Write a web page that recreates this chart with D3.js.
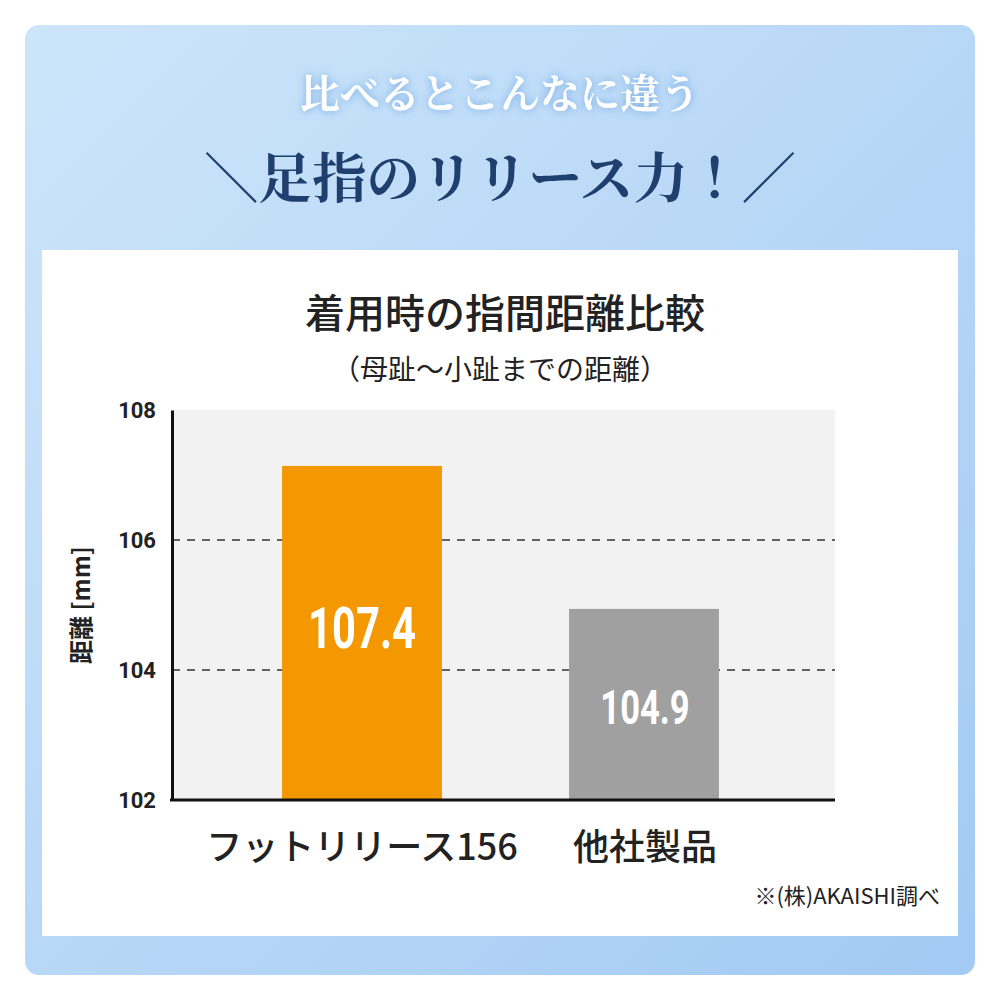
<!DOCTYPE html><html><head><meta charset="utf-8">
<script src="https://cdn.jsdelivr.net/npm/d3@7/dist/d3.min.js"></script>
<style>body{margin:0}</style></head><body><svg id="c" width="1000" height="1000"></svg>
<script>
const categories=["フットリリース156","他社製品"];
const values=[107.14,104.94];
const valueLabels=["107.4","104.9"];
const colors=["#f39800","#a0a0a0"];
const yTicks=[102,104,106,108];
const svg=d3.select("#c");
const F="'Noto Sans CJK JP','Noto Sans',sans-serif";
const defs=svg.append("defs");
const g=defs.append("linearGradient").attr("id","bg").attr("x1","0").attr("y1","0").attr("x2","1").attr("y2","1");
g.append("stop").attr("offset","0").attr("stop-color","#cde5fa");
g.append("stop").attr("offset","1").attr("stop-color","#a3caf3");
const fl=defs.append("filter").attr("id","glow").attr("x","-20%").attr("y","-50%").attr("width","140%").attr("height","200%");
fl.append("feGaussianBlur").attr("stdDeviation","4").attr("in","SourceAlpha").attr("result","b");
fl.append("feFlood").attr("flood-color","#5a9be0").attr("flood-opacity","0.8");
fl.append("feComposite").attr("in2","b").attr("operator","in").attr("result","s");
const m=fl.append("feMerge");m.append("feMergeNode").attr("in","s");m.append("feMergeNode").attr("in","SourceGraphic");
svg.append("rect").attr("width",1000).attr("height",1000).attr("fill","#fff");
svg.append("rect").attr("x",25).attr("y",25).attr("width",950).attr("height",950).attr("rx",14).attr("fill","url(#bg)");
svg.append("rect").attr("x",42).attr("y",250).attr("width",916).attr("height",686).attr("fill","#fff");
svg.append("text").attr("x",500).attr("y",108).attr("text-anchor","middle").attr("fill","#fff").attr("font-family","'Noto Serif CJK JP','Noto Sans CJK JP',serif").attr("font-weight","bold").attr("font-size",40).attr("filter","url(#glow)").text("比べるとこんなに違う");
svg.append("text").attr("x",500).attr("y",198).attr("text-anchor","middle").attr("fill","#1f3f6e").attr("font-family","'Noto Serif CJK JP','Noto Sans CJK JP',serif").attr("font-weight","bold").attr("font-size",54).text("＼足指のリリース力！／");
svg.append("text").attr("x",505).attr("y",328).attr("text-anchor","middle").attr("font-family",F).attr("font-weight",500).attr("font-size",40).attr("fill","#222").text("着用時の指間距離比較");
svg.append("text").attr("x",500).attr("y",380).attr("text-anchor","middle").attr("font-family",F).attr("font-size",28).attr("fill","#222").text("（母趾～小趾までの距離）");
const x0=172,x1=835,yT=410,yB=800;
const xb=d3.scaleBand().domain(categories).range([x0,x1]).paddingInner(0.435).paddingOuter(0.389);
const y=d3.scaleLinear().domain([102,108]).range([yB,yT]);
svg.append("rect").attr("x",x0).attr("y",yT).attr("width",x1-x0).attr("height",yB-yT).attr("fill","#f2f2f2");
svg.selectAll(".gl").data([104,106]).join("line").attr("x1",x0).attr("x2",x1).attr("y1",d=>y(d)).attr("y2",d=>y(d)).attr("stroke","#333").attr("stroke-width",1.5).attr("stroke-dasharray","8,7");
svg.selectAll(".bar").data(values).join("rect").attr("x",(d,i)=>xb(categories[i])+(i?4:0)).attr("width",(d,i)=>xb.bandwidth()-(i?10:0)).attr("y",d=>y(d)).attr("height",d=>yB-y(d)).attr("fill",(d,i)=>colors[i]);
svg.selectAll(".vl").data(values).join("text").attr("transform",(d,i)=>`translate(${xb(categories[i])+xb.bandwidth()/2},${i==0?648:724}) scale(0.72,1)`).attr("text-anchor","middle").attr("fill","#fff").attr("font-family","Roboto,sans-serif").attr("font-weight","bold").attr("font-size",(d,i)=>i==0?58:48).text((d,i)=>valueLabels[i]);
const ya=svg.append("g").attr("transform",`translate(${x0},0)`).call(d3.axisLeft(y).tickValues(yTicks).tickSize(0).tickPadding(16).tickFormat(d3.format("d")));
ya.select(".domain").attr("stroke","#111").attr("stroke-width",3);
ya.selectAll("text").attr("font-family","Roboto,sans-serif").attr("font-weight","bold").attr("font-size",22).attr("fill","#222");
svg.append("line").attr("x1",x0-2).attr("x2",x1).attr("y1",yB).attr("y2",yB).attr("stroke","#111").attr("stroke-width",3);
svg.selectAll(".cl").data(categories).join("text").attr("x",d=>xb(d)+xb.bandwidth()/2).attr("y",860).attr("text-anchor","middle").attr("font-family",F).attr("font-weight",500).attr("font-size",36).attr("fill","#222").text(d=>d);
svg.append("text").attr("transform","translate(90,605) rotate(-90)").attr("text-anchor","middle").attr("font-family",F).attr("font-weight","bold").attr("font-size",24).attr("fill","#222").text("距離 [mm]");
svg.append("text").attr("x",940).attr("y",904).attr("text-anchor","end").attr("font-family",F).attr("font-size",22).attr("fill","#222").text("※(株)AKAISHI調べ");
</script></body></html>
